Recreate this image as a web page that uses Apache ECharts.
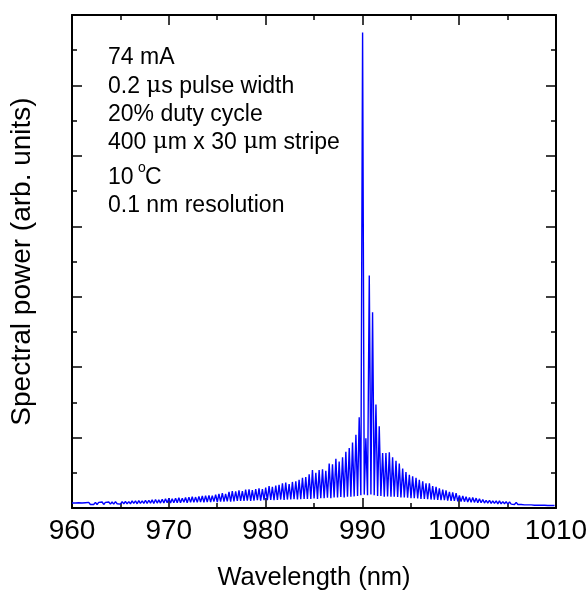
<!DOCTYPE html>
<html>
<head>
<meta charset="utf-8">
<script src="https://cdn.jsdelivr.net/npm/echarts@6/dist/echarts.min.js"></script>
<style>html,body{margin:0;padding:0;background:#fff;}#c{width:588px;height:592px;}</style>
</head>
<body>
<div id="c"></div>
<script>
// Mode peak wavelengths (nm) and peak power (arb.)
var peakWl = [
960.00, 960.35, 960.69, 961.04, 961.38, 961.73, 962.07, 962.42, 962.76, 963.11,
963.45, 963.80, 964.14, 964.49, 964.83, 965.18, 965.52, 965.87, 966.21, 966.56,
966.90, 967.25, 967.59, 967.94, 968.28, 968.63, 968.97, 969.32, 969.66, 970.01,
970.35, 970.70, 971.04, 971.39, 971.73, 972.08, 972.42, 972.77, 973.11, 973.46,
973.80, 974.15, 974.49, 974.84, 975.18, 975.53, 975.87, 976.22, 976.56, 976.91,
977.25, 977.60, 977.94, 978.29, 978.63, 978.98, 979.32, 979.67, 980.01, 980.36,
980.70, 981.05, 981.39, 981.74, 982.08, 982.43, 982.77, 983.12, 983.46, 983.81,
984.15, 984.50, 984.84, 985.19, 985.53, 985.88, 986.22, 986.57, 986.91, 987.26,
987.60, 987.95, 988.29, 988.64, 988.98, 989.33, 989.67, 990.02, 990.36, 990.71,
991.05, 991.40, 991.74, 992.09, 992.43, 992.78, 993.12, 993.47, 993.81, 994.16,
994.50, 994.85, 995.19, 995.54, 995.88, 996.23, 996.57, 996.92, 997.26, 997.61,
997.95, 998.30, 998.64, 998.99, 999.33, 999.68, 1000.02, 1000.37, 1000.71, 1001.06,
1001.40, 1001.75, 1002.09, 1002.44, 1002.78, 1003.13, 1003.47, 1003.82, 1004.16, 1004.51,
1004.85, 1005.20, 1005.54, 1005.89, 1006.23, 1006.58, 1006.92, 1007.27, 1007.61, 1007.96,
1008.30, 1008.65, 1008.99, 1009.34, 1009.68
];
var peakPw = [
0.07, 0.07, 0.075, 0.07, 0.075, 0.08, 0.075, 0.08, 0.08, 0.085,
0.08, 0.085, 0.085, 0.09, 0.085, 0.09, 0.095, 0.09, 0.10, 0.10,
0.105, 0.10, 0.11, 0.11, 0.115, 0.12, 0.115, 0.125, 0.13, 0.135,
0.13, 0.14, 0.145, 0.14, 0.15, 0.155, 0.16, 0.155, 0.165, 0.17,
0.175, 0.18, 0.175, 0.19, 0.20, 0.21, 0.20, 0.23, 0.24, 0.235,
0.25, 0.24, 0.26, 0.265, 0.255, 0.27, 0.28, 0.27, 0.29, 0.31,
0.30, 0.32, 0.33, 0.35, 0.36, 0.34, 0.37, 0.38, 0.40, 0.43,
0.44, 0.48, 0.54, 0.50, 0.54, 0.55, 0.53, 0.63, 0.62, 0.70,
0.66, 0.72, 0.80, 0.85, 0.93, 1.04, 1.29, 6.75, 0.99, 3.30,
2.78, 1.47, 1.16, 0.78, 0.78, 0.79, 0.72, 0.67, 0.63, 0.56,
0.51, 0.47, 0.45, 0.43, 0.40, 0.38, 0.35, 0.35, 0.31, 0.30,
0.28, 0.26, 0.25, 0.23, 0.22, 0.21, 0.18, 0.17, 0.16, 0.15,
0.15, 0.14, 0.13, 0.12, 0.11, 0.11, 0.10, 0.10, 0.10, 0.09,
0.09, 0.085, 0.08, 0.08, 0.075, 0.07, 0.07, 0.065, 0.06, 0.06,
0.055, 0.05, 0.05, 0.045, 0.045
];
// Inter-mode trough wavelengths (nm) and trough power (arb.)
var troughWl = [
960.17, 960.52, 960.86, 961.21, 961.55, 961.90, 962.24, 962.59, 962.93, 963.28,
963.62, 963.97, 964.31, 964.66, 965.00, 965.35, 965.69, 966.04, 966.38, 966.73,
967.07, 967.42, 967.76, 968.11, 968.45, 968.80, 969.14, 969.49, 969.83, 970.18,
970.52, 970.87, 971.21, 971.56, 971.90, 972.25, 972.59, 972.94, 973.28, 973.63,
973.97, 974.32, 974.66, 975.01, 975.35, 975.70, 976.04, 976.39, 976.73, 977.08,
977.42, 977.77, 978.11, 978.46, 978.80, 979.15, 979.49, 979.84, 980.18, 980.53,
980.87, 981.22, 981.56, 981.91, 982.25, 982.60, 982.94, 983.29, 983.63, 983.98,
984.32, 984.67, 985.01, 985.36, 985.70, 986.05, 986.39, 986.74, 987.08, 987.43,
987.77, 988.12, 988.46, 988.81, 989.15, 989.50, 989.84, 990.19, 990.53, 990.88,
991.22, 991.57, 991.91, 992.26, 992.60, 992.95, 993.29, 993.64, 993.98, 994.33,
994.67, 995.02, 995.36, 995.71, 996.05, 996.40, 996.74, 997.09, 997.43, 997.78,
998.12, 998.47, 998.81, 999.16, 999.50, 999.85, 1000.19, 1000.54, 1000.88, 1001.23,
1001.57, 1001.92, 1002.26, 1002.61, 1002.95, 1003.30, 1003.64, 1003.99, 1004.33, 1004.68,
1005.02, 1005.37, 1005.71, 1006.06, 1006.40, 1006.75, 1007.09, 1007.44, 1007.78, 1008.13,
1008.47, 1008.82, 1009.16, 1009.51, 1009.85
];
var troughPw = [
0.045, 0.045, 0.05, 0.045, 0.05, 0.05, 0.05, 0.05, 0.055, 0.05,
0.055, 0.055, 0.055, 0.06, 0.055, 0.06, 0.06, 0.06, 0.065, 0.06,
0.065, 0.065, 0.065, 0.07, 0.065, 0.07, 0.07, 0.07, 0.075, 0.07,
0.075, 0.075, 0.075, 0.08, 0.075, 0.08, 0.08, 0.08, 0.085, 0.08,
0.085, 0.085, 0.09, 0.085, 0.09, 0.09, 0.095, 0.09, 0.095, 0.10,
0.10, 0.10, 0.105, 0.10, 0.105, 0.11, 0.105, 0.11, 0.11, 0.115,
0.11, 0.115, 0.12, 0.115, 0.12, 0.12, 0.125, 0.12, 0.125, 0.13,
0.13, 0.13, 0.135, 0.13, 0.14, 0.14, 0.145, 0.14, 0.15, 0.15,
0.155, 0.15, 0.16, 0.16, 0.165, 0.17, 0.18, 0.19, 0.18, 0.19,
0.18, 0.17, 0.17, 0.16, 0.165, 0.16, 0.16, 0.155, 0.15, 0.15,
0.145, 0.14, 0.14, 0.135, 0.13, 0.13, 0.125, 0.12, 0.12, 0.115,
0.11, 0.11, 0.105, 0.10, 0.10, 0.095, 0.09, 0.09, 0.085, 0.08,
0.08, 0.075, 0.075, 0.07, 0.07, 0.065, 0.065, 0.06, 0.06, 0.06,
0.055, 0.055, 0.05, 0.05, 0.05, 0.045, 0.045, 0.045, 0.04, 0.04,
0.04, 0.04, 0.035, 0.035, 0.035
];
var xTicks = { min: 960, max: 1010, interval: 10 };
var yTicks = { min: 0, max: 7, interval: 1 };
var annotations = ['74 mA', '0.2 {mu|μ}s pulse width', '20% duty cycle', '400 {mu|μ}m x 30 {mu|μ}m stripe', '10', '0.1 nm resolution'];

var data = [];
for (var i = 0; i < peakWl.length; i++) {
  data.push([peakWl[i], peakPw[i]]);
  data.push([troughWl[i], troughPw[i]]);
}

var FONT = '"Liberation Sans", Arial, Helvetica, sans-serif';
var FS = 23;
function axisCommon(extra) {
  var base = {
    type: 'value',
    axisLine: { show: true, onZero: false, lineStyle: { color: '#000', width: 2 } },
    axisTick: { show: true, inside: true, length: 10, lineStyle: { color: '#000', width: 1.5 } },
    minorTick: { show: true, splitNumber: 2, length: 5, lineStyle: { color: '#000', width: 1.5 } },
    splitLine: { show: false },
    minorSplitLine: { show: false }
  };
  for (var k in extra) base[k] = extra[k];
  return base;
}
function annot(txt, left, top) {
  return {
    type: 'text', left: left, top: top,
    style: {
      text: txt, fontSize: FS, fontFamily: FONT, fill: '#000',
      rich: { mu: { fontSize: FS, fontFamily: '"DejaVu Serif", "Liberation Serif", serif', fill: '#000' } }
    }
  };
}

var chart = echarts.init(document.getElementById('c'), null, { renderer: 'canvas' });
var option = {
  animation: false,
  backgroundColor: '#fff',
  grid: { left: 72, right: 32, top: 15, bottom: 84, containLabel: false, outerBoundsMode: 'none' },
  xAxis: [
    axisCommon({
      position: 'bottom', min: xTicks.min, max: xTicks.max, interval: xTicks.interval,
      axisLabel: { show: true, fontSize: 28, color: '#000', fontFamily: FONT, margin: 9,
        formatter: function (v) { return String(v); } },
      name: 'Wavelength (nm)', nameLocation: 'middle', nameGap: 57,
      nameTextStyle: { fontSize: 25.5, color: '#000', fontFamily: FONT }
    }),
    axisCommon({
      position: 'top', min: xTicks.min, max: xTicks.max, interval: xTicks.interval,
      axisLabel: { show: false }
    })
  ],
  yAxis: [
    axisCommon({
      position: 'left', min: yTicks.min, max: yTicks.max, interval: yTicks.interval,
      axisLabel: { show: false },
      name: 'Spectral power (arb. units)', nameLocation: 'middle', nameGap: 36,
      nameTextStyle: { fontSize: 28, color: '#000', fontFamily: FONT }
    }),
    axisCommon({
      position: 'right', min: yTicks.min, max: yTicks.max, interval: yTicks.interval,
      axisLabel: { show: false }
    })
  ],
  series: [{
    type: 'line',
    xAxisIndex: 0, yAxisIndex: 0,
    data: data,
    showSymbol: false,
    symbol: 'none',
    sampling: null,
    lineStyle: { color: '#0000ff', width: 1.4 },
    silent: true
  }],
  graphic: {
    elements: [
      annot(annotations[0], 108, 46),
      annot(annotations[1], 108, 75),
      annot(annotations[2], 108, 103),
      annot(annotations[3], 108, 131),
      annot(annotations[4], 108, 166),
      { type: 'text', left: 138, top: 161, style: { text: 'o', fontSize: 14, fontFamily: FONT, fill: '#000' } },
      { type: 'text', left: 145, top: 166, style: { text: 'C', fontSize: FS, fontFamily: FONT, fill: '#000' } },
      annot(annotations[5], 108, 194)
    ]
  }
};
chart.setOption(option);
</script>
</body>
</html>
